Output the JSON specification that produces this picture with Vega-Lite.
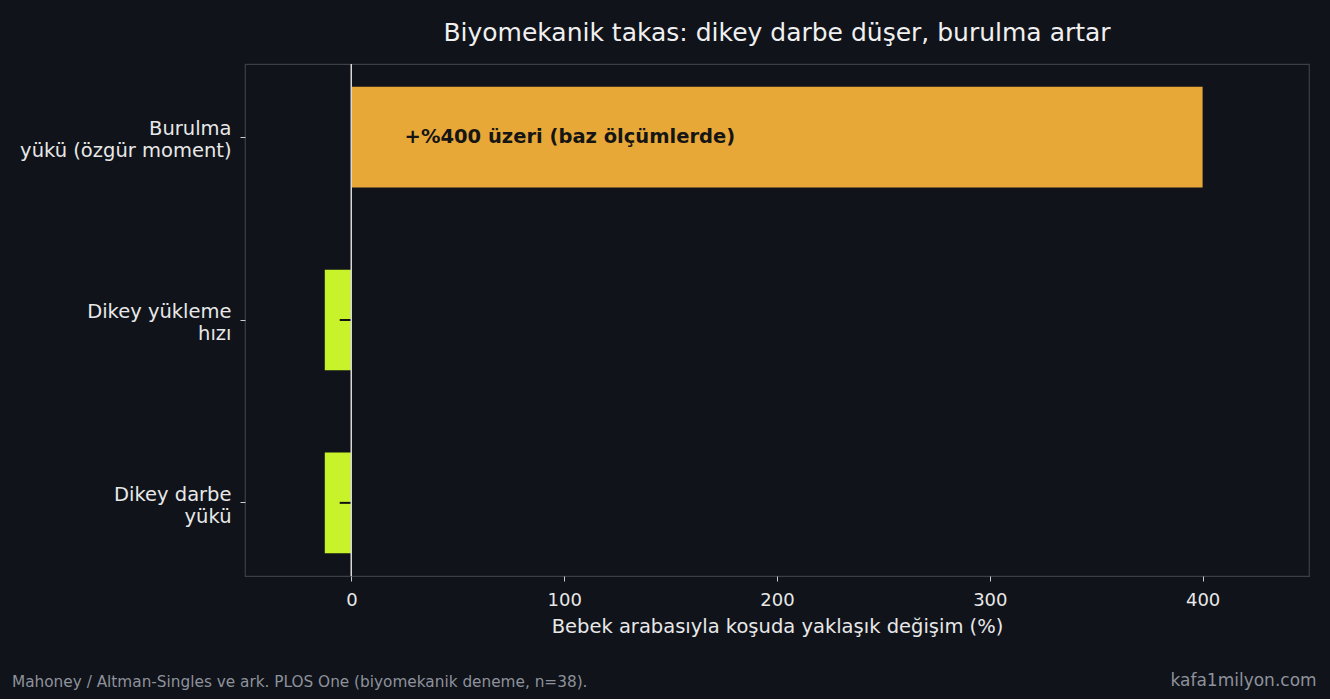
{
  "$schema": "https://vega.github.io/schema/vega-lite/v6.json",
  "background": "#10131a",
  "padding": {"left": 11, "top": 20, "right": 14, "bottom": 8},
  "config": {
    "font": "DejaVu Sans",
    "view": {"stroke": null},
    "concat": {"spacing": 0}
  },
  "title": {
    "text": "kafa1milyon.com",
    "orient": "bottom",
    "anchor": "end",
    "frame": "bounds",
    "fontSize": 17,
    "fontWeight": "normal",
    "color": "#8e929b",
    "offset": -17,
    "dx": 7
  },
  "vconcat": [{
    "title": {
      "text": "Mahoney / Altman-Singles ve ark. PLOS One (biyomekanik deneme, n=38).",
      "orient": "bottom",
      "anchor": "start",
      "frame": "bounds",
      "fontSize": 15.3,
      "fontWeight": "normal",
      "color": "#8e929b",
      "offset": 39,
      "dx": -7
    },
    "vconcat": [{
      "width": 1064,
      "height": 512,
      "view": {"stroke": "#3b3f47", "strokeWidth": 1.2},
      "title": {
        "text": "Biyomekanik takas: dikey darbe düşer, burulma artar",
        "fontSize": 25,
        "fontWeight": "normal",
        "color": "#f0f0f0",
        "anchor": "middle",
        "offset": 17
      },
      "data": {
        "values": [
          {"metric": "Burulma\nyükü (özgür moment)", "change": 400, "kind": "artar", "note": "+%400 üzeri (baz ölçümlerde)"},
          {"metric": "Dikey yükleme\nhızı", "change": -12.5, "kind": "düşer", "lo": -5.5, "hi": 0},
          {"metric": "Dikey darbe\nyükü", "change": -12.5, "kind": "düşer", "lo": -5.5, "hi": 0}
        ]
      },
      "encoding": {
        "y": {
          "field": "metric",
          "type": "nominal",
          "sort": null,
          "scale": {"paddingInner": 0.45, "paddingOuter": 0.125},
          "axis": {
            "title": null,
            "domain": false,
            "labelExpr": "split(datum.value, '\\n')",
            "labelFontSize": 19.5,
            "labelColor": "#e8e8e8",
            "labelLineHeight": 22,
            "labelLimit": 400,
            "labelOffset": -8,
            "labelPadding": 9,
            "tickColor": "#cccccc",
            "tickSize": 5,
            "tickWidth": 1
          }
        }
      },
      "layer": [
        {
          "mark": {"type": "bar"},
          "encoding": {
            "x": {
              "field": "change",
              "type": "quantitative",
              "scale": {"domain": [-50, 450], "nice": false, "zero": false},
              "axis": {
                "title": "Bebek arabasıyla koşuda yaklaşık değişim (%)",
                "titleFontSize": 19.5,
                "titleFontWeight": "normal",
                "titleColor": "#e8e8e8",
                "titlePadding": 8,
                "values": [0, 100, 200, 300, 400],
                "grid": false,
                "domain": false,
                "labelFontSize": 18,
                "labelColor": "#e8e8e8",
                "labelPadding": 10,
                "tickColor": "#cccccc",
                "tickSize": 5,
                "tickWidth": 1
              }
            },
            "color": {
              "field": "kind",
              "type": "nominal",
              "scale": {"domain": ["artar", "düşer"], "range": ["#e8a838", "#c8f229"]},
              "legend": null
            }
          }
        },
        {
          "transform": [{"filter": "isValid(datum.lo)"}],
          "mark": {"type": "rule", "color": "#111111", "strokeWidth": 2},
          "encoding": {
            "x": {"field": "lo", "type": "quantitative"},
            "x2": {"field": "hi"}
          }
        },
        {
          "mark": {"type": "rule", "color": "#d8d8d8", "strokeWidth": 1.2},
          "encoding": {"x": {"datum": 0}, "y": null}
        },
        {
          "transform": [{"filter": "isValid(datum.note)"}],
          "mark": {"type": "text", "align": "left", "baseline": "middle", "fontSize": 19.5, "fontWeight": "bold", "color": "#151515"},
          "encoding": {
            "x": {"datum": 25},
            "text": {"field": "note"}
          }
        }
      ]
    }]
  }]
}
